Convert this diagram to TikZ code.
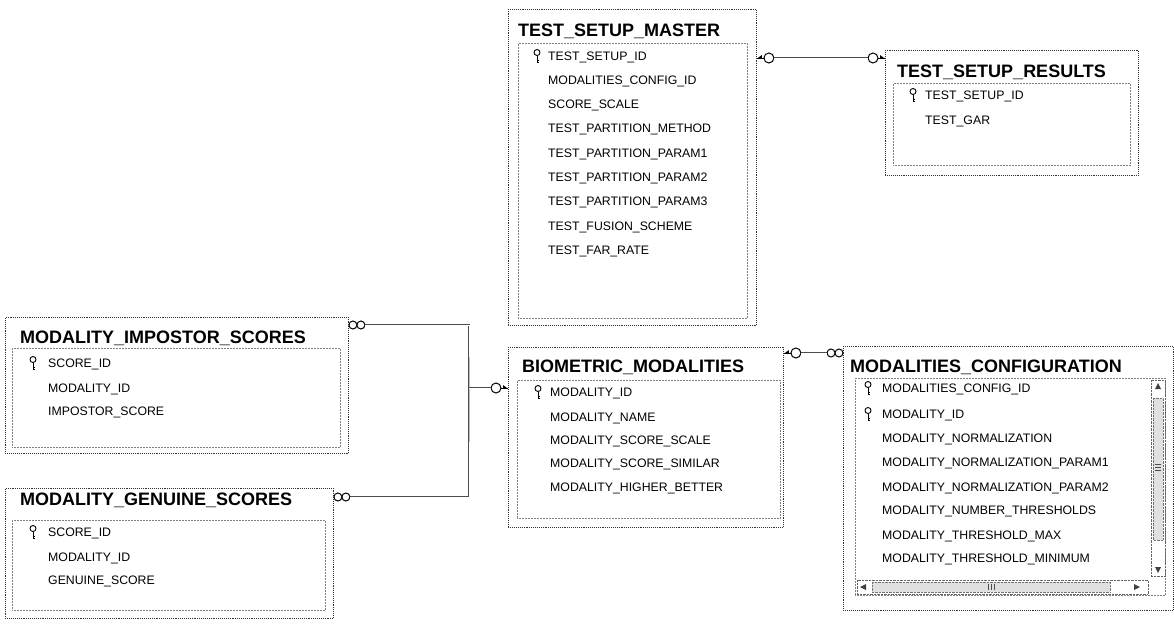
\documentclass[tikz,border=0pt]{standalone}
\usepackage{fontspec}
\setmainfont{Liberation Sans}
\usetikzlibrary{positioning, calc}

\tikzset{
  outerbox/.style={draw=black!80, line width=0.9pt, densely dotted, anchor=north west, inner sep=0pt},
  innerbox/.style={draw=black!50, line width=0.5pt, densely dotted, anchor=north west, inner sep=0pt},
  tabletitle/.style={anchor=west, inner sep=0pt, font=\fontsize{18}{18}\selectfont\bfseries},
  field/.style={anchor=west, inner sep=0pt, text height=9pt, text depth=1pt, text=black, font=\fontsize{12.3}{13}\selectfont},
  relline/.style={draw=black!70, line width=2.6pt, postaction={draw=white, line width=1pt}},
  rowkey/.pic={
    \draw[line width=0.9pt] (0,-3.5) circle (3pt);
    \draw[line width=1pt] (0,-0.5) -- (0,6.5) (0,4) -- (2.3,4) (0,6) -- (2.3,6);
  },
  relkey/.pic={
    \draw[line width=0.8pt] (0,0) -- (7,0);
    \fill (1,0) -- (5,-3) -- (5,0) -- cycle;
    \draw[line width=1pt] (12,0) circle (5pt);
  },
  relmany/.pic={
    \draw[line width=1pt] (4,0) circle (4pt) (12,0) circle (4pt);
  },
}

\begin{document}
\begin{tikzpicture}[x=1pt, y=-1pt]
  \useasboundingbox[fill=white] (0,0) rectangle (1174,624);

  % TEST_SETUP_MASTER
  \node[outerbox, minimum width=248, minimum height=316] (master) at (508,9) {};
  \node[innerbox, minimum width=229, minimum height=275] (master-in) at (518,43) {};
  \node[tabletitle] (master-t) at (518,31) {TEST\_SETUP\_MASTER};
  \pic at (537,56) {rowkey};
  \node[field] (master-r1) at (548,56) {TEST\_SETUP\_ID};
  \node[field] (master-r2) at (548,80) {MODALITIES\_CONFIG\_ID};
  \node[field] (master-r3) at (548,104) {SCORE\_SCALE};
  \node[field] (master-r4) at (548,128) {TEST\_PARTITION\_METHOD};
  \node[field] (master-r5) at (548,153) {TEST\_PARTITION\_PARAM1};
  \node[field] (master-r6) at (548,177) {TEST\_PARTITION\_PARAM2};
  \node[field] (master-r7) at (548,201) {TEST\_PARTITION\_PARAM3};
  \node[field] (master-r8) at (548,226) {TEST\_FUSION\_SCHEME};
  \node[field] (master-r9) at (548,250) {TEST\_FAR\_RATE};

  % TEST_SETUP_RESULTS
  \node[outerbox, minimum width=253, minimum height=125] (results) at (885,50) {};
  \node[innerbox, minimum width=237, minimum height=82] (results-in) at (893,83) {};
  \node[tabletitle] (results-t) at (897,72) {TEST\_SETUP\_RESULTS};
  \pic at (913,95) {rowkey};
  \node[field] (results-r1) at (925,95) {TEST\_SETUP\_ID};
  \node[field] (results-r2) at (925,120) {TEST\_GAR};

  % MODALITY_IMPOSTOR_SCORES
  \node[outerbox, minimum width=343, minimum height=136] (impostor) at (5,317) {};
  \node[innerbox, minimum width=328, minimum height=99] (impostor-in) at (12,348) {};
  \node[tabletitle] (impostor-t) at (20,338) {MODALITY\_IMPOSTOR\_SCORES};
  \pic at (33,363) {rowkey};
  \node[field] (impostor-r1) at (48,363) {SCORE\_ID};
  \node[field] (impostor-r2) at (48,388) {MODALITY\_ID};
  \node[field] (impostor-r3) at (48,411) {IMPOSTOR\_SCORE};

  % MODALITY_GENUINE_SCORES
  \node[outerbox, minimum width=328, minimum height=130] (genuine) at (5,488) {};
  \node[innerbox, minimum width=313, minimum height=90] (genuine-in) at (12,520) {};
  \node[tabletitle] (genuine-t) at (20,500) {MODALITY\_GENUINE\_SCORES};
  \pic at (33,532) {rowkey};
  \node[field] (genuine-r1) at (48,532) {SCORE\_ID};
  \node[field] (genuine-r2) at (48,557) {MODALITY\_ID};
  \node[field] (genuine-r3) at (48,580) {GENUINE\_SCORE};

  % BIOMETRIC_MODALITIES
  \node[outerbox, minimum width=275, minimum height=180] (biomod) at (508,347) {};
  \node[innerbox, minimum width=263, minimum height=138] (biomod-in) at (517,380) {};
  \node[tabletitle] (biomod-t) at (522,367) {BIOMETRIC\_MODALITIES};
  \pic at (538,392) {rowkey};
  \node[field] (biomod-r1) at (550,392) {MODALITY\_ID};
  \node[field] (biomod-r2) at (550,417) {MODALITY\_NAME};
  \node[field] (biomod-r3) at (550,440) {MODALITY\_SCORE\_SCALE};
  \node[field] (biomod-r4) at (550,463) {MODALITY\_SCORE\_SIMILAR};
  \node[field] (biomod-r5) at (550,487) {MODALITY\_HIGHER\_BETTER};

  % MODALITIES_CONFIGURATION
  \node[outerbox, minimum width=330, minimum height=264] (modconf) at (843,346) {};
  \node[innerbox, minimum width=310, minimum height=217] (modconf-in) at (855,378) {};
  \node[tabletitle] (modconf-t) at (850,367) {MODALITIES\_CONFIGURATION};
  \pic at (868,388) {rowkey};
  \pic at (868,414) {rowkey};
  \node[field] (modconf-r1) at (882,388) {MODALITIES\_CONFIG\_ID};
  \node[field] (modconf-r2) at (882,414) {MODALITY\_ID};
  \node[field] (modconf-r3) at (882,438) {MODALITY\_NORMALIZATION};
  \node[field] (modconf-r4) at (882,462) {MODALITY\_NORMALIZATION\_PARAM1};
  \node[field] (modconf-r5) at (882,487) {MODALITY\_NORMALIZATION\_PARAM2};
  \node[field] (modconf-r6) at (882,510) {MODALITY\_NUMBER\_THRESHOLDS};
  \node[field] (modconf-r7) at (882,535) {MODALITY\_THRESHOLD\_MAX};
  \node[field] (modconf-r8) at (882,558) {MODALITY\_THRESHOLD\_MINIMUM};

  % scrollbars
  \draw[black!60, densely dotted] (1151,380) rectangle (1165,576);
  \fill[black!75] (1158,383) -- (1155,389) -- (1161,389) -- cycle;
  \fill[black!75] (1158,573) -- (1155,567) -- (1161,567) -- cycle;
  \draw[black!55, densely dotted, fill=black!12] (1153,398) rectangle (1163,540);
  \draw[black!70] (1155,464) -- (1161,464) (1155,467) -- (1161,467) (1155,470) -- (1161,470);
  \draw[black!60, densely dotted] (857,580) rectangle (1148,594);
  \fill[black!75] (860,587) -- (866,584) -- (866,590) -- cycle;
  \fill[black!75] (1140,587) -- (1134,584) -- (1134,590) -- cycle;
  \draw[black!55, densely dotted, fill=black!12] (872,582) rectangle (1110,592);
  \draw[black!70] (988,584) -- (988,590) (991,584) -- (991,590) (994,584) -- (994,590);

  % Relations
  \coordinate (master-out) at (master.east |- 0,58);
  \coordinate (results-in-pt) at (results.west |- 0,58);
  \coordinate (biomod-out) at (biomod.east |- 0,353);
  \coordinate (modconf-in-pt) at (modconf.west |- 0,353);
  \coordinate (impostor-out) at (impostor.east |- 0,325);
  \coordinate (genuine-out) at (genuine.east |- 0,497);
  \coordinate (biomod-in-pt) at (biomod.west |- 0,388);
  \coordinate (jn) at (469,388);

  \pic at (master-out) {relkey};
  \pic[xscale=-1] at (results-in-pt) {relkey};
  \path[relline] ([xshift=17pt]master-out) -- ([xshift=-17pt]results-in-pt);

  \pic at (biomod-out) {relkey};
  \pic[xscale=-1] at (modconf-in-pt) {relmany};
  \path[relline] ([xshift=17pt]biomod-out) -- ([xshift=-16pt]modconf-in-pt);

  \pic at (impostor-out) {relmany};
  \pic at (genuine-out) {relmany};
  \pic[xscale=-1] at (biomod-in-pt) {relkey};
  \path[relline] ([xshift=16pt]impostor-out) -| (jn) |- ([xshift=16pt]genuine-out);
  \path[relline] (jn) -- ([xshift=-17pt]biomod-in-pt);
\end{tikzpicture}
\end{document}
